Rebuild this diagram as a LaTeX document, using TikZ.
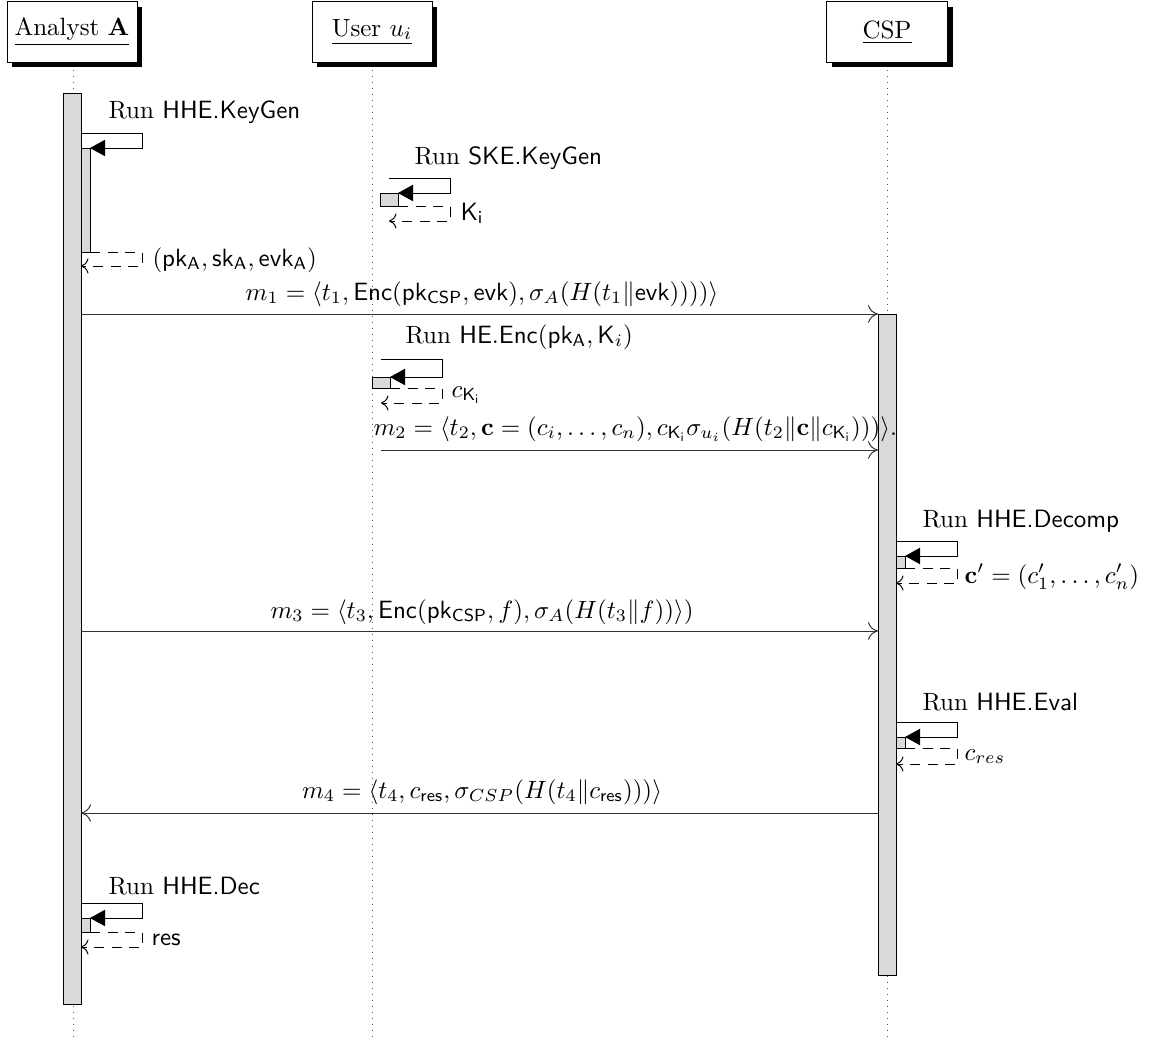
\documentclass[tikz,border=0pt]{standalone}
\usepackage{amsmath}
\usetikzlibrary{arrows.meta,shadows}
\begin{document}
\begin{tikzpicture}[x=0.4pt,y=-0.4pt,
  inst/.style={draw,fill=white,minimum width=#1*0.4pt,minimum height=24pt,inner sep=0pt,
    drop shadow={shadow xshift=2pt,shadow yshift=-2pt,fill=black,opacity=1}},
  life/.style={dotted,gray!70!black},
  bar/.style={draw,fill=gray!30},
  msg/.style={draw=black!80,-{To[length=4pt,width=7pt]}},
  callarr/.style={draw,-{Triangle[length=6pt,width=6.5pt]}},
  ret/.style={draw,dashed,dash pattern=on 4pt off 3pt,-{To[length=3pt,width=6pt]}},
  lbl/.style={inner sep=0pt,anchor=base west},
  mlbl/.style={inner sep=0pt,anchor=base}]
\useasboundingbox (0,0) rectangle (1157,1040);
% lifelines
\coordinate (la0) at (73,64); \coordinate (la1) at (73,1040);
\coordinate (lu0) at (372,64); \coordinate (lu1) at (372,1040);
\coordinate (lc0) at (887,64); \coordinate (lc1) at (887,1040);
\draw[life] (la0) -- (la1);
\draw[life] (lu0) -- (lu1);
\draw[life] (lc0) -- (lc1);
% instances
\node[inst=130] (A) at (72,32) {\underline{Analyst $\mathbf{A}$}};
\node[inst=120] (U) at (372,32) {\underline{User $u_i$}};
\node[inst=121] (C) at (887,32) {\underline{CSP}};
% main bars
\draw[bar] (63,93) rectangle (81,1004);
\draw[bar] (878,314) rectangle (896,975);
% HHE.KeyGen
\node[lbl] (t1) at (108,118) {Run \textsf{HHE.KeyGen}};
\draw[bar] (81,148) rectangle (90,252);
\draw[callarr] (81,133) -- (142,133) -- (142,148) -- (90,148);
\draw[ret] (90,252) -- (142,252) -- (142,266) -- (81,266);
\node[lbl] (r1) at (152,266) {$(\mathsf{pk_A},\mathsf{sk_A},\mathsf{evk_A})$};
% SKE.KeyGen
\node[lbl] (t2) at (414,164) {Run \textsf{SKE.KeyGen}};
\draw[bar] (380,193) rectangle (398,206);
\draw[callarr] (389,178) -- (450,178) -- (450,193) -- (398,193);
\draw[ret] (398,206) -- (450,206) -- (450,221) -- (389,221);
\node[lbl] (r2) at (460,220) {$\mathsf{K_i}$};
% m1
\draw[msg] (81,314) -- (878,314);
\node[mlbl] (m1) at (482,300) {$m_1 = \langle t_1, \mathsf{Enc}(\mathsf{pk_{CSP}},\mathsf{evk}), \sigma_A(H(t_1\|\mathsf{evk}))))\rangle$};
% HE.Enc
\node[lbl] (t3) at (405,343) {Run $\mathsf{HE.Enc}(\mathsf{pk_A},\mathsf{K}_i)$};
\draw[bar] (372,377) rectangle (390,388);
\draw[callarr] (381,359) -- (442,359) -- (442,377) -- (390,377);
\draw[ret] (390,388) -- (442,388) -- (442,403) -- (381,403);
\node[lbl] (r3) at (451,397) {$c_{\mathsf{K_i}}$};
% m2
\draw[msg] (381,450) -- (878,450);
\node[lbl] (m2) at (373,435) {$m_2 = \langle t_2, \mathbf{c} = (c_i,\ldots,c_n), c_{\mathsf{K_i}}\sigma_{u_i}(H(t_2\|\mathbf{c}\|c_{\mathsf{K_i}})))\rangle$.};
% HHE.Decomp
\node[lbl] (t4) at (922,527) {Run \textsf{HHE.Decomp}};
\draw[bar] (896,556) rectangle (905,568);
\draw[callarr] (896,541) -- (957,541) -- (957,556) -- (905,556);
\draw[ret] (905,568) -- (957,568) -- (957,583) -- (896,583);
\node[lbl] (r4) at (964,583) {$\mathbf{c}' = (c_1',\ldots,c_n')$};
% m3
\draw[msg] (81,631) -- (878,631);
\node[mlbl] (m3) at (482,618) {$m_3 = \langle t_3, \mathsf{Enc}(\mathsf{pk_{CSP}}, f), \sigma_A(H(t_3\|f))\rangle)$};
% HHE.Eval
\node[lbl] (t5) at (922,710) {Run \textsf{HHE.Eval}};
\draw[bar] (896,737) rectangle (905,748);
\draw[callarr] (896,722) -- (957,722) -- (957,737) -- (905,737);
\draw[ret] (905,748) -- (957,748) -- (957,764) -- (896,764);
\node[lbl] (r5) at (964,760) {$c_{res}$};
% m4
\draw[msg] (878,813) -- (81,813);
\node[mlbl] (m4) at (482,798) {$m_4 = \langle t_4, c_{\mathsf{res}}, \sigma_{CSP}(H(t_4\|c_{\mathsf{res}})))\rangle$};
% HHE.Dec
\node[lbl] (t6) at (108,894) {Run \textsf{HHE.Dec}};
\draw[bar] (81,918) rectangle (90,932);
\draw[callarr] (81,903) -- (142,903) -- (142,918) -- (90,918);
\draw[ret] (90,932) -- (142,932) -- (142,947) -- (81,947);
\node[lbl] (r6) at (151,945) {$\mathsf{res}$};
\end{tikzpicture}
\end{document}
